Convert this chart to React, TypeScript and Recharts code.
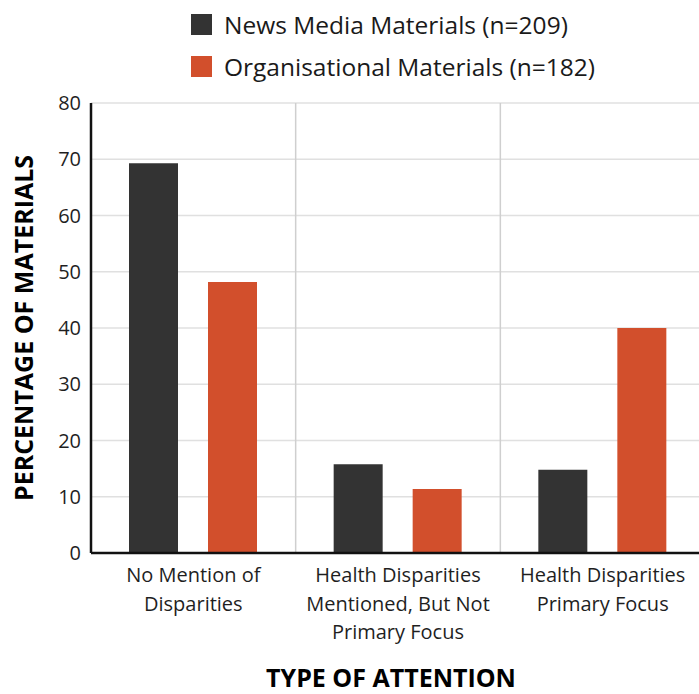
import {
  Bar,
  BarChart,
  CartesianGrid,
  Legend,
  XAxis,
  YAxis,
} from "recharts";

const categories = [
  "No Mention of\nDisparities",
  "Health Disparities\nMentioned, But Not\nPrimary Focus",
  "Health Disparities\nPrimary Focus",
];
const newsMedia = [69.3, 15.8, 14.8];
const organisational = [48.2, 11.4, 40.0];
const yTicks = [0, 10, 20, 30, 40, 50, 60, 70, 80];
// boundaries between category bands, counted in bands from the left
const sectionBreaks = [1, 2];

const NEWS_NAME = "News Media Materials (n=209)";
const ORG_NAME = "Organisational Materials (n=182)";

const data = categories.map((category, i) => ({
  category,
  news: newsMedia[i],
  org: organisational[i],
}));

const FONT = "'Open Sans', 'Noto Sans', sans-serif";

function CategoryTick({ x, y, payload }: any) {
  const lines = String(payload.value).split("\n");
  return (
    <text x={x} y={y} textAnchor="middle" fill="#1f1f1f" fontSize={20} fontFamily={FONT}>
      {lines.map((line, i) => (
        <tspan key={i} x={x} dy={i === 0 ? 27 : 28.5}>
          {line}
        </tspan>
      ))}
    </text>
  );
}

function LegendContent({ payload }: any) {
  return (
    <div style={{ fontFamily: FONT }}>
      {(payload || []).map((entry: any) => (
        <div
          key={entry.value}
          style={{ display: "flex", alignItems: "center", height: 42 }}
        >
          <span
            style={{
              display: "inline-block",
              width: 21,
              height: 21,
              background: entry.color,
              marginRight: 12,
            }}
          />
          <span style={{ fontSize: 24.5, color: "#1a1a1a", whiteSpace: "nowrap" }}>
            {entry.value}
          </span>
        </div>
      ))}
    </div>
  );
}

// vertical separators sit on the edges between category bands
const bandEdges = ({ offset }: any) =>
  sectionBreaks.map((b) => offset.left + (offset.width * b) / categories.length);

export default function App() {
  return (
    <div
      style={{
        position: "absolute",
        left: 0,
        top: 0,
        width: 699,
        height: 694,
        overflow: "hidden",
        background: "#fff",
        fontFamily: FONT,
      }}
    >
      <BarChart
        width={705}
        height={694}
        data={data}
        margin={{ top: 103, right: 0, left: 0, bottom: 0 }}
        barSize={49}
        barGap={30}
      >
        <CartesianGrid stroke="#e0e0e0" strokeWidth={1.5} vertical={false} />
        <CartesianGrid
          stroke="#cfcfcf"
          strokeWidth={1.5}
          horizontal={false}
          verticalCoordinatesGenerator={bandEdges}
        />
        <XAxis
          dataKey="category"
          height={141}
          interval={0}
          tick={<CategoryTick />}
          tickLine={false}
          tickSize={0}
          axisLine={{ stroke: "#111", strokeWidth: 2.5 }}
          label={{
            value: "TYPE OF ATTENTION",
            position: "insideBottom",
            offset: 7,
            dx: -7,
            style: { fontSize: 25, fontWeight: 700, fill: "#000", fontFamily: FONT },
          }}
        />
        <YAxis
          width={91}
          domain={[0, 80]}
          ticks={yTicks}
          interval={0}
          tickLine={false}
          tickSize={0}
          tickMargin={10}
          axisLine={{ stroke: "#111", strokeWidth: 2.5 }}
          tick={{ fontSize: 20, fill: "#1f1f1f", fontFamily: FONT }}
          label={{
            value: "PERCENTAGE OF MATERIALS",
            angle: -90,
            position: "insideLeft",
            offset: 24,
            style: {
              fontSize: 25,
              fontWeight: 700,
              fill: "#000",
              fontFamily: FONT,
              textAnchor: "middle",
            },
          }}
        />
        <Legend
          layout="vertical"
          align="center"
          verticalAlign="middle"
          content={<LegendContent />}
          wrapperStyle={{ top: 3, left: 191, width: "auto", height: "auto" }}
        />
        <Bar dataKey="news" name={NEWS_NAME} fill="#333333" isAnimationActive={false} />
        <Bar dataKey="org" name={ORG_NAME} fill="#d24f2c" isAnimationActive={false} />
      </BarChart>
    </div>
  );
}
